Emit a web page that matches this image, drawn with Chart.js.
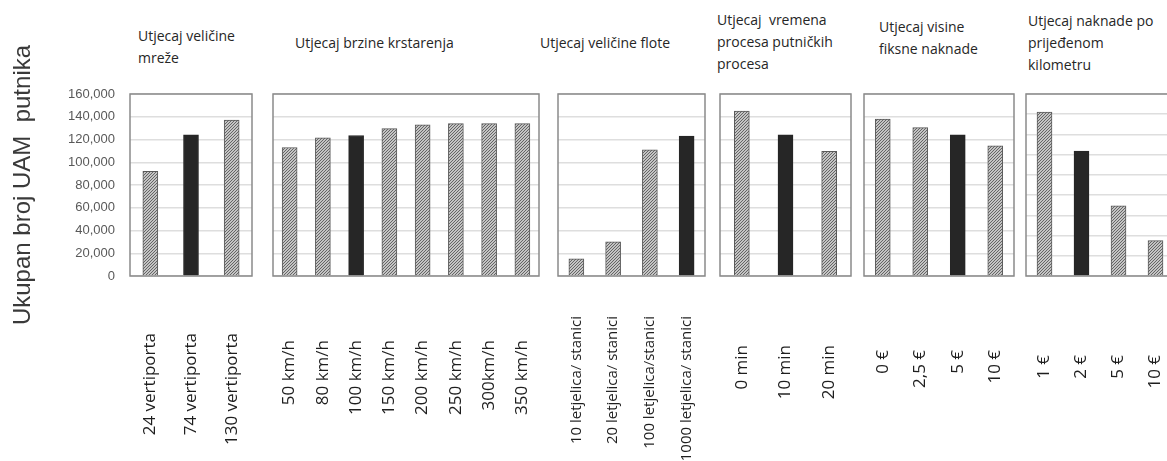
<!DOCTYPE html>
<html>
<head>
<meta charset="utf-8">
<script src="https://cdn.jsdelivr.net/npm/chart.js@4.4.1/dist/chart.umd.min.js"></script>
<style>
  html, body { margin: 0; padding: 0; background: #fff; }
  body { width: 1167px; height: 461px; position: relative; overflow: hidden; }
  canvas { position: absolute; }
  .title {
    position: absolute;
    font-family: 'Open Sans', sans-serif;
    font-size: 14px;
    line-height: 22px;
    color: #262626;
    white-space: nowrap;
  }
</style>
</head>
<body>
<div class="title" style="left:138px;top:25px">Utjecaj veličine<br>mreže</div>
<div class="title" style="left:295px;top:32px">Utjecaj brzine krstarenja</div>
<div class="title" style="left:540px;top:32px">Utjecaj veličine flote</div>
<div class="title" style="left:717px;top:9px">Utjecaj &nbsp;vremena<br>procesa putničkih<br>procesa</div>
<div class="title" style="left:879px;top:16px">Utjecaj visine<br>fiksne naknade</div>
<div class="title" style="left:1028px;top:10px">Utjecaj naknade po<br>prijeđenom<br>kilometru</div>

<canvas id="p1"></canvas>
<canvas id="p2"></canvas>
<canvas id="p3"></canvas>
<canvas id="p4"></canvas>
<canvas id="p5"></canvas>
<canvas id="p6"></canvas>

<script>
// data
const networkLabels = ['24 vertiporta', '74 vertiporta', '130 vertiporta'];
const networkValues = [92000, 124000, 137000];

const speedLabels = ['50 km/h', '80 km/h', '100 km/h', '150 km/h', '200 km/h', '250 km/h', '300km/h', '350 km/h'];
const speedValues = [113000, 121500, 123500, 129500, 133000, 134000, 134000, 134000];

const fleetLabels = ['10 letjelica/ stanici', '20 letjelica/ stanici', '100 letjelica/stanici', '1000 letjelica/ stanici'];
const fleetValues = [15000, 30000, 111000, 123000];

const processLabels = ['0 min', '10 min', '20 min'];
const processValues = [145000, 124000, 109500];

const fixedFeeLabels = ['0 €', '2,5 €', '5 €', '10 €'];
const fixedFeeValues = [138000, 130500, 124000, 114500];

const kmFeeLabels = ['1 €', '2 €', '5 €', '10 €'];
const kmFeeValues = [162000, 123500, 69500, 35000];

// index of the reference scenario (black bar) in each group
const baseIndex = [1, 2, 3, 1, 2, 1];

const yTitle = 'Ukupan broj UAM  putnika';

// layout of the six small charts
const PLOT_TOP = 94, HEIGHT = 461, XAXIS_H = 185;
const panels = [
  { id: 'p1', labels: networkLabels,  values: networkValues,  frameLeft: 130,  frameW: 122, axisW: 130, max: 160000, pad: 57, font: 17 },
  { id: 'p2', labels: speedLabels,    values: speedValues,    frameLeft: 273,  frameW: 266, axisW: 0,   max: 160000, pad: 64, font: 17 },
  { id: 'p3', labels: fleetLabels,    values: fleetValues,    frameLeft: 558,  frameW: 147, axisW: 0,   max: 160000, pad: 40, font: 15 },
  { id: 'p4', labels: processLabels,  values: processValues,  frameLeft: 720,  frameW: 131, axisW: 0,   max: 160000, pad: 69, font: 17 },
  { id: 'p5', labels: fixedFeeLabels, values: fixedFeeValues, frameLeft: 864,  frameW: 150, axisW: 0,   max: 160000, pad: 74, font: 17 },
  { id: 'p6', labels: kmFeeLabels,    values: kmFeeValues,    frameLeft: 1026, frameW: 148, axisW: 0,   max: 180000, pad: 79, font: 17 }
];

function makeHatch() {
    const s = 3;
    const c = document.createElement('canvas');
    c.width = s; c.height = s;
    const g = c.getContext('2d');
    g.fillStyle = '#c4c4c4';
    g.fillRect(0, 0, s, s);
    g.strokeStyle = '#656565';
    g.lineWidth = 1;
    g.beginPath();
    g.moveTo(0, s); g.lineTo(s, 0);
    g.moveTo(-1, 1); g.lineTo(1, -1);
    g.moveTo(s - 1, s + 1); g.lineTo(s + 1, s - 1);
    g.stroke();
    return g.createPattern(c, 'repeat');
}

const hatch = makeHatch();

// plot area border like the excel frame
const framePlugin = {
    id: 'frame',
    beforeDatasetsDraw(chart) {
        const a = chart.chartArea;
        const ctx = chart.ctx;
        ctx.save();
        ctx.strokeStyle = '#8a8a8a';
        ctx.lineWidth = 1.5;
        ctx.strokeRect(a.left, a.top, a.right - a.left, a.bottom - a.top);
        ctx.restore();
    }
};

panels.forEach((p, i) => {
    const canvas = document.getElementById(p.id);
    canvas.width = p.axisW + p.frameW + 4;
    canvas.height = HEIGHT;
    canvas.style.left = (p.frameLeft - p.axisW - 2) + 'px';
    canvas.style.top = '0px';

    const first = i === 0;
    const colors = p.values.map((v, k) => k === baseIndex[i] ? '#262626' : hatch);
    const borders = p.values.map((v, k) => k === baseIndex[i] ? '#262626' : '#5a5a5a');

    new Chart(canvas.getContext('2d'), {
        type: 'bar',
        data: {
            labels: p.labels,
            datasets: [{
                data: p.values,
                backgroundColor: colors,
                borderColor: borders,
                borderWidth: 1,
                barThickness: 15
            }]
        },
        options: {
            responsive: false,
            animation: false,
            layout: { padding: { top: PLOT_TOP, left: 2, right: 2, bottom: 0 } },
            plugins: {
                legend: { display: false },
                tooltip: { enabled: false }
            },
            scales: {
                x: {
                    grid: { display: false, drawTicks: false },
                    border: { display: false },
                    ticks: {
                        minRotation: 90,
                        maxRotation: 90,
                        autoSkip: false,
                        padding: p.pad,
                        color: '#1e1e1e',
                        font: { family: "'Open Sans', sans-serif", size: p.font }
                    },
                    afterFit: axis => {
                        axis.height = XAXIS_H;
                        axis.paddingLeft = 0;
                        axis.paddingRight = 0;
                    }
                },
                y: {
                    min: 0,
                    max: p.max,
                    grid: { color: '#dedede', lineWidth: 1.5, drawTicks: false },
                    border: { display: false },
                    ticks: {
                        display: first,
                        stepSize: 20000,
                        padding: 15,
                        color: '#595959',
                        font: { family: "'Liberation Sans', Arial, sans-serif", size: 13 },
                        callback: v => v.toLocaleString('en-US')
                    },
                    title: {
                        display: first,
                        text: yTitle,
                        color: '#3a3a3a',
                        padding: { top: 9, bottom: 0 },
                        font: { family: "'Liberation Sans', Arial, sans-serif", size: 24 }
                    },
                    afterFit: axis => {
                        axis.width = p.axisW;
                        axis.paddingTop = 0;
                        axis.paddingBottom = 0;
                    }
                }
            }
        },
        plugins: [framePlugin]
    });
});
</script>
</body>
</html>
